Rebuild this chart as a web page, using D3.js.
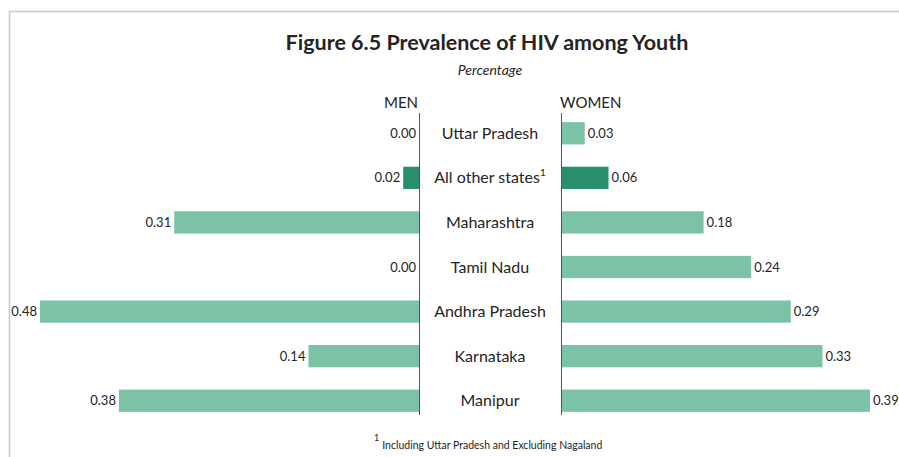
<!DOCTYPE html>
<html>
<head>
<meta charset="utf-8">
<script src="https://cdn.jsdelivr.net/npm/d3@7"></script>
<style>
  html, body { margin: 0; padding: 0; background: #fff; }
  svg { display: block; }
  text { font-family: Lato, "Open Sans", sans-serif; fill: #262324; }
</style>
</head>
<body>
<svg id="chart" width="899" height="457"></svg>
<script>
// Prevalence of HIV among youth, by state and sex (percent)
const states = ["Uttar Pradesh", "All other states", "Maharashtra", "Tamil Nadu",
                "Andhra Pradesh", "Karnataka", "Manipur"];
const menValues   = [0.00, 0.02, 0.31, 0.00, 0.48, 0.14, 0.38];
const womenValues = [0.03, 0.06, 0.18, 0.24, 0.29, 0.33, 0.39];
const highlighted = ["All other states"];

const svg = d3.select("#chart");
const W = 899, H = 457;

const lightGreen = "#7cc3a5";
const darkGreen = "#27906a";

// frame
svg.append("line").attr("x1", 9).attr("x2", W).attr("y1", 11.5).attr("y2", 11.5)
  .attr("stroke", "#c8c8c8").attr("stroke-width", 1.5);
svg.append("line").attr("x1", 9.5).attr("x2", 9.5).attr("y1", 11).attr("y2", H)
  .attr("stroke", "#c8c8c8").attr("stroke-width", 1.5);

// layout
const menZero = 419, womenZero = 561;
const y = d3.scaleBand().domain(states).range([111, 423]).paddingInner(0.5).paddingOuter(0.25);
const xMen = d3.scaleLinear().domain([0, 0.48]).range([menZero, menZero - 379]);
const xWomen = d3.scaleLinear().domain([0, 0.39]).range([womenZero, womenZero + 309]);

const fill = s => highlighted.includes(s) ? darkGreen : lightGreen;

// titles
svg.append("text").attr("x", 487).attr("y", 50).attr("text-anchor", "middle")
  .attr("font-weight", "bold").attr("font-size", 21.5)
  .text("Figure 6.5 Prevalence of HIV among Youth");
svg.append("text").attr("x", 490).attr("y", 75).attr("text-anchor", "middle")
  .attr("font-style", "italic").attr("font-size", 14).text("Percentage");
svg.append("text").attr("x", 418).attr("y", 108).attr("text-anchor", "end")
  .attr("font-size", 15).text("MEN");
svg.append("text").attr("x", 560).attr("y", 108).attr("text-anchor", "start")
  .attr("font-size", 15).text("WOMEN");

// men bars
svg.append("g").selectAll("rect").data(states).join("rect")
  .attr("x", (s, i) => xMen(menValues[i]))
  .attr("y", s => y(s))
  .attr("width", (s, i) => menZero - xMen(menValues[i]))
  .attr("height", y.bandwidth())
  .attr("fill", fill);

svg.append("g").selectAll("text").data(states).join("text")
  .attr("x", (s, i) => xMen(menValues[i]) - 3)
  .attr("y", s => y(s) + y.bandwidth() / 2)
  .attr("dy", "0.35em").attr("text-anchor", "end").attr("font-size", 13)
  .text((s, i) => d3.format(".2f")(menValues[i]));

// women bars
svg.append("g").selectAll("rect").data(states).join("rect")
  .attr("x", womenZero)
  .attr("y", s => y(s))
  .attr("width", (s, i) => xWomen(womenValues[i]) - womenZero)
  .attr("height", y.bandwidth())
  .attr("fill", fill);

svg.append("g").selectAll("text").data(states).join("text")
  .attr("x", (s, i) => xWomen(womenValues[i]) + 3)
  .attr("y", s => y(s) + y.bandwidth() / 2)
  .attr("dy", "0.35em").attr("text-anchor", "start").attr("font-size", 13)
  .text((s, i) => d3.format(".2f")(womenValues[i]));

// baselines
[menZero, womenZero].forEach(x => {
  svg.append("line").attr("x1", x + 0.5).attr("x2", x + 0.5).attr("y1", 113).attr("y2", 415)
    .attr("stroke", "#555").attr("stroke-width", 1);
});

// state labels
const lab = svg.append("g").selectAll("text").data(states).join("text")
  .attr("x", (menZero + womenZero) / 2)
  .attr("y", s => y(s) + y.bandwidth() / 2)
  .attr("dy", "0.35em").attr("text-anchor", "middle").attr("font-size", 16);
lab.append("tspan").text(s => s);
lab.filter(s => s === "All other states").append("tspan")
  .attr("font-size", 10).attr("dy", -7).text("1");

// footnote
const fn = svg.append("text").attr("x", 374).attr("y", 449).attr("font-size", 10.5);
fn.append("tspan").attr("font-size", 9).attr("dy", -8).text("1");
fn.append("tspan").attr("dy", 8).attr("dx", 3).text("Including Uttar Pradesh and Excluding Nagaland");
</script>
</body>
</html>
